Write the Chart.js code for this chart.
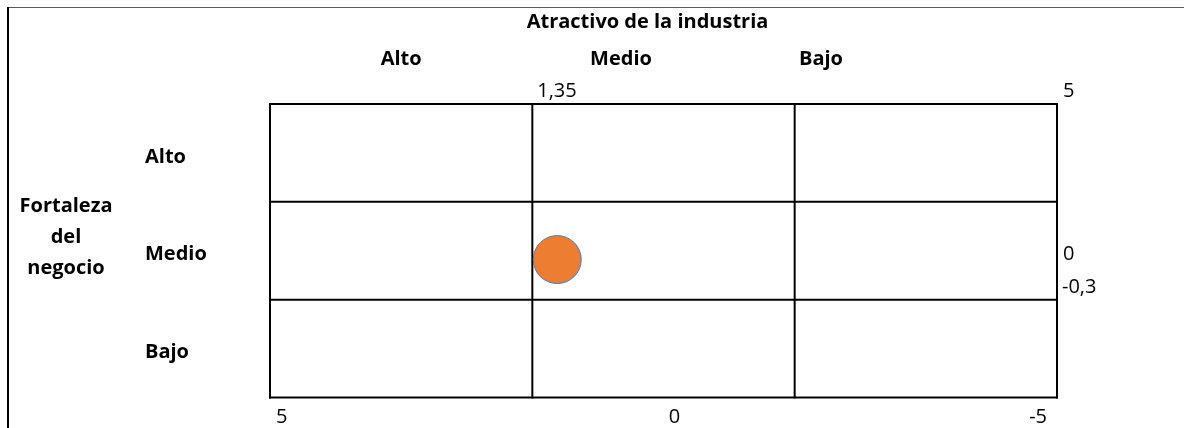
<!DOCTYPE html>
<html>
<head>
<meta charset="utf-8">
<script src="https://cdn.jsdelivr.net/npm/chart.js@4"></script>
<style>
  html,body{margin:0;padding:0;background:#fff}
  #wrap{width:1184px;height:428px;position:relative}
</style>
</head>
<body>
<div id="wrap"><canvas id="matriz"></canvas></div>
<script>
// ----- Datos -----
const tituloX = 'Atractivo de la industria';
const tituloY = ['Fortaleza', 'del', 'negocio'];
const nivelesX = ['Alto', 'Medio', 'Bajo'];
const nivelesY = ['Alto', 'Medio', 'Bajo'];
const limites = [5, 5/3, -5/3, -5];      // bordes de celdas (ambos ejes)
const ticksX = [5, 0, -5];
const ticksY = [5, 0];
const puntoX = [1.35];
const puntoY = [-0.3];

const fmt = v => String(v).replace('.', ',');
const fBold = 'bold 20px "Open Sans"';
const fReg = '20px "Open Sans"';

// ----- Marco de la imagen -----
const marco = {
  id: 'marco',
  beforeDraw(chart){
    const c = chart.ctx;
    c.save();
    c.strokeStyle = '#595959'; c.lineWidth = 1;
    c.beginPath(); c.moveTo(8, 7.5); c.lineTo(chart.width, 7.5); c.stroke();
    c.strokeStyle = '#000'; c.lineWidth = 2;
    c.beginPath(); c.moveTo(8, 7); c.lineTo(8, chart.height); c.stroke();
    c.restore();
  }
};

// ----- Cuadricula 3x3 -----
const cuadricula = {
  id: 'cuadricula',
  beforeDatasetsDraw(chart){
    const c = chart.ctx, sx = chart.scales.x, sy = chart.scales.y;
    c.save();
    c.strokeStyle = '#000'; c.lineWidth = 2; c.lineCap = 'square';
    const x0 = sx.getPixelForValue(5), x1 = sx.getPixelForValue(-5);
    const y0 = sy.getPixelForValue(5), y1 = sy.getPixelForValue(-5);
    limites.forEach(v=>{
      const px = sx.getPixelForValue(v);
      c.beginPath(); c.moveTo(px, y0); c.lineTo(px, y1); c.stroke();
      const py = sy.getPixelForValue(v);
      c.beginPath(); c.moveTo(x0, py); c.lineTo(x1, py); c.stroke();
    });
    c.restore();
  }
};

// ----- Textos -----
const textos = {
  id: 'textos',
  afterDraw(chart){
    const c = chart.ctx, sx = chart.scales.x, sy = chart.scales.y, a = chart.chartArea;
    c.save();
    c.fillStyle = '#000';
    c.textBaseline = 'alphabetic';

    // titulo superior y niveles de columna
    c.font = fBold; c.textAlign = 'center';
    c.fillText(tituloX, (a.left + a.right)/2 - 16, 28);
    const colX = [sx.getPixelForValue(10/3), 621, 821];
    nivelesX.forEach((t,i)=> c.fillText(t, colX[i], 65));

    // titulo izquierdo
    tituloY.forEach((t,i)=> c.fillText(t, 66, 212 + i*31));

    // niveles de fila
    c.textAlign = 'left';
    const filaY = [163, 260, 358];
    nivelesY.forEach((t,i)=> c.fillText(t, 145, filaY[i]));

    // etiquetas numericas
    c.font = fReg;
    c.fillText(fmt(puntoX[0]), sx.getPixelForValue(puntoX[0]) - 20, a.top - 7);
    c.fillText(fmt(ticksY[0]), a.right + 6, a.top - 7);
    c.fillText(fmt(ticksY[1]), a.right + 6, sy.getPixelForValue(ticksY[1]) + 9);
    c.fillText(fmt(puntoY[0]), a.right + 5, sy.getPixelForValue(ticksY[1]) + 42);

    const yb = a.bottom + 25;
    c.textAlign = 'left';   c.fillText(fmt(ticksX[0]), sx.getPixelForValue(ticksX[0]) + 6, yb);
    c.textAlign = 'center'; c.fillText(fmt(ticksX[1]), sx.getPixelForValue(ticksX[1]) + 11, yb);
    c.textAlign = 'right';  c.fillText(fmt(ticksX[2]), sx.getPixelForValue(ticksX[2]) - 10, yb);
    c.restore();
  }
};

new Chart(document.getElementById('matriz'), {
  type: 'scatter',
  data: {
    datasets: [{
      data: puntoX.map((x,i)=>({ x, y: puntoY[i] })),
      backgroundColor: '#ED7D31',
      borderColor: '#4A7EBB',
      borderWidth: 1,
      pointRadius: 24,
      pointHoverRadius: 24
    }]
  },
  options: {
    responsive: true,
    maintainAspectRatio: false,
    animation: false,
    layout: { padding: { left: 270, right: 127, top: 104, bottom: 30.5 } },
    plugins: { legend: { display: false }, tooltip: { enabled: false } },
    scales: {
      x: { type: 'linear', min: -5, max: 5, reverse: true, display: false },
      y: { type: 'linear', min: -5, max: 5, display: false }
    }
  },
  plugins: [marco, cuadricula, textos]
});
</script>
</body>
</html>
